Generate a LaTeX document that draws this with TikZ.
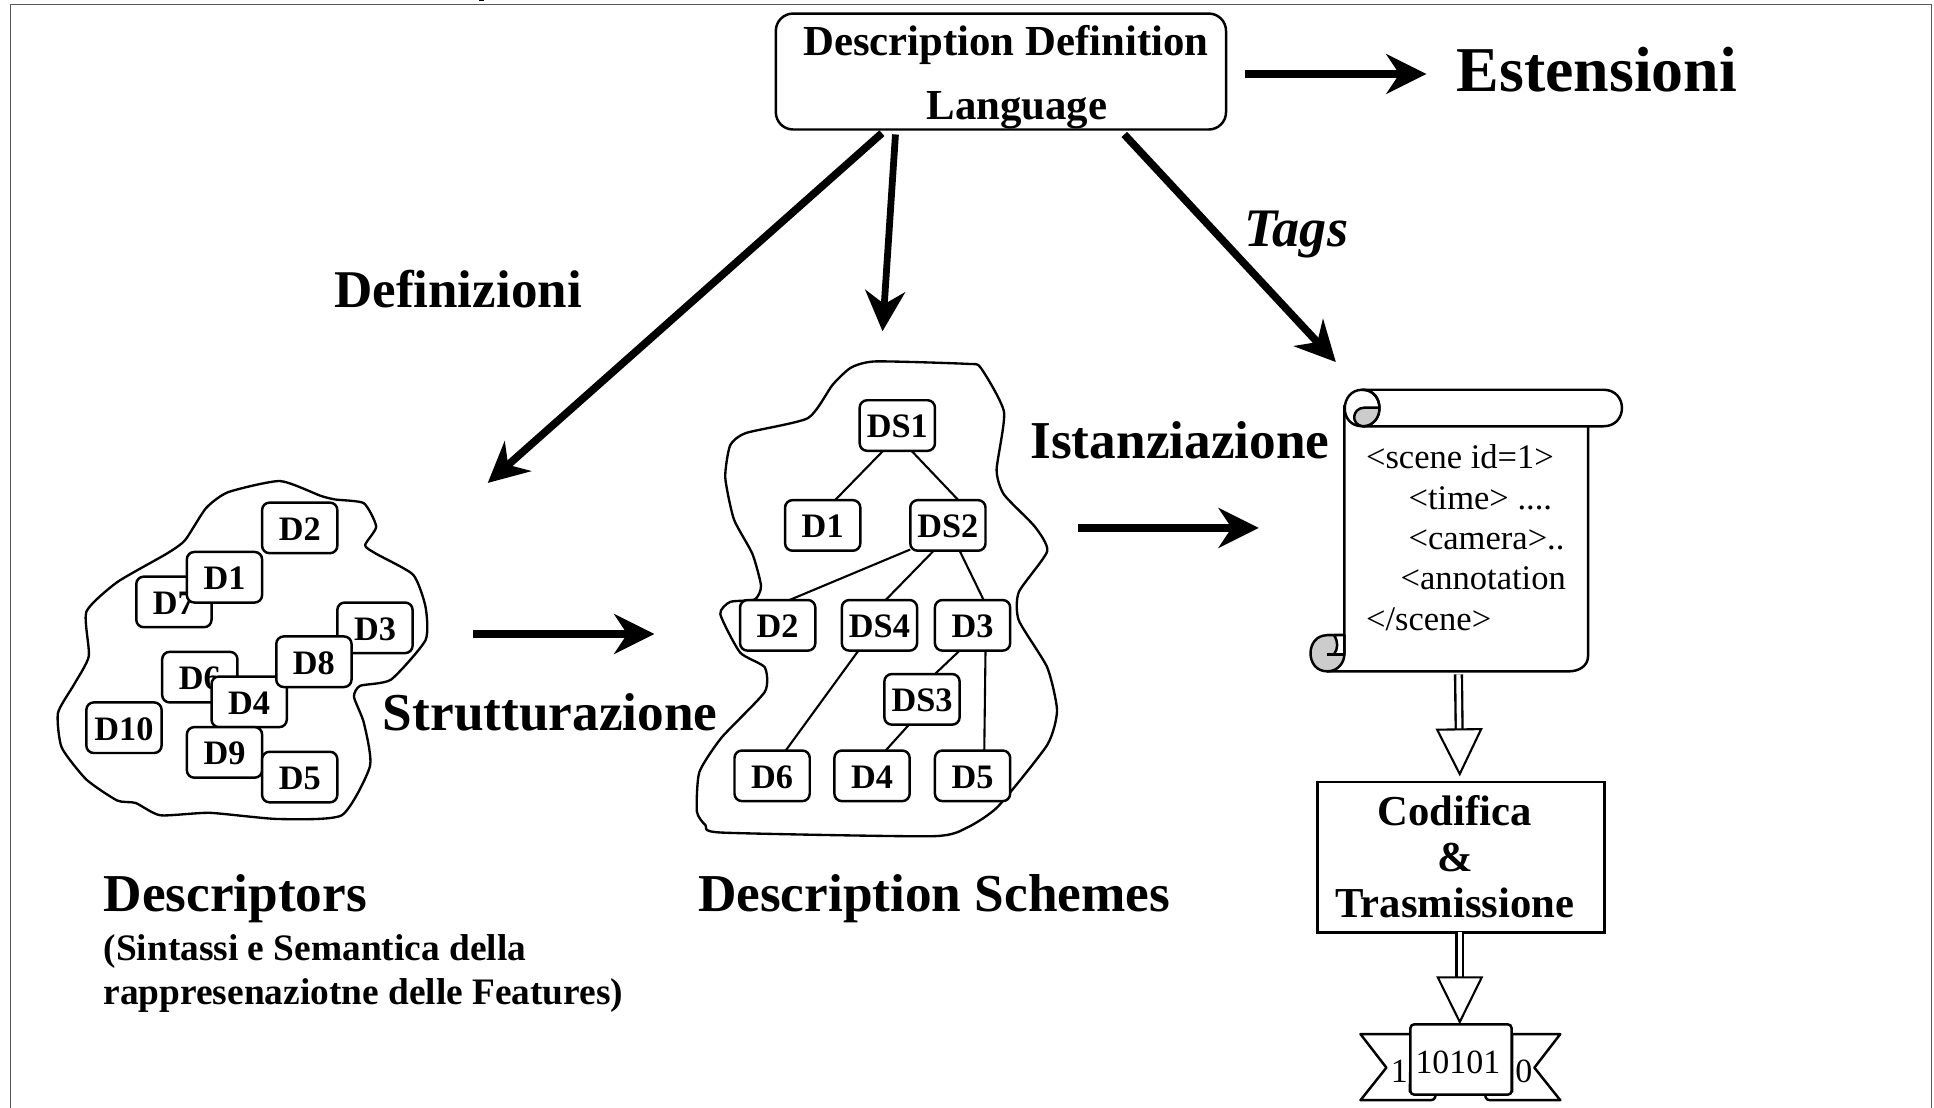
\documentclass[tikz,border=0pt]{standalone}
\usepackage{fontspec}
\setmainfont{Liberation Serif}
\usetikzlibrary{arrows.meta,calc}
\newcommand{\fsz}[1]{\fontsize{#1}{#1}\selectfont}
\tikzset{
  dbox/.style={draw=black,fill=white,line width=2pt,rounded corners=6pt,minimum width=61pt,minimum height=41pt,inner sep=0pt,outer sep=0pt,font=\fsz{27.8}\bfseries,text height=20pt,text depth=0pt},
  blob/.style={draw=black,line width=1.9pt,fill=white,line join=round},
  link/.style={draw=black,line width=1.7pt},
  big/.style={-{Stealth[length=33pt,width=33pt,inset=11pt,line width=0pt]},draw=black,line width=6.2pt},
  dbl/.style={draw=black,line width=1.9pt,double=white,double distance=3.6pt,-{Triangle[open,length=39pt,width=38pt,fill=white,line width=1.7pt]}},
  lab/.style={anchor=base west,inner sep=0pt,outer sep=0pt,font=\fsz{43.2}\bfseries},
  scr/.style={draw=black,line width=2pt,line join=round},
}
\begin{document}
\begin{tikzpicture}[x=1pt,y=-1pt]
\useasboundingbox (0,0) rectangle (1568,898.3);
% page frame
\draw[draw=black!65,line width=1.2pt] (8.5,898.3) -- (8.5,3.5) -- (1566,3.5) -- (1566,898.3);
\fill[black] (388,0) rectangle (392,1.2);

% left cloud
\draw[blob] plot[smooth cycle,tension=0.35] coordinates {(227,390) (185,399) (167,412) (150,438) (135,449) (95,472) (70,496) (72,532) (60,555) (47,578) (50,606) (70,632) (95,649) (110,651) (130,661) (170,659) (225,664) (277,661) (300,621) (295,586) (287,565) (292,556) (317,551) (345,519) (345,492) (335,466) (305,449) (296,442) (305,427) (295,408) (272,405) (260,402)};
\node[dbox] (ld7) at (141,488) {D7};
\node[dbox] (ld1) at (182,468) {D1};
\node[dbox] (ld6) at (162,549) {D6};
\node[dbox] (ld4) at (202,569) {D4};
\node[dbox] (ld3) at (304,509) {D3};
\node[dbox] (ld8) at (254.5,536.5) {D8};
\node[dbox] (ld2) at (243,428) {D2};
\node[dbox] (ld10) at (100.5,590) {D10};
\node[dbox] (ld9) at (182,610) {D9};
\node[dbox] (ld5) at (243,630) {D5};

% middle cloud
\draw[blob] plot[smooth cycle,tension=0.35] coordinates {(710,293) (690,298) (675,312) (655,339) (605,351) (592,361) (588,387) (595,421) (610,449) (617,475) (612,486) (592,488) (584,498) (600,529) (620,541) (620,561) (585,598) (567,626) (565,658) (572,669) (585,675) (755,678) (784,671) (809,654) (849,604) (857,576) (849,541) (826,503) (826,480) (849,447) (839,427) (814,401) (808,381) (814,334) (795,298) (784,295)};
\node[dbox] (ds1) at (727.5,345) {DS1};
\node[dbox] (md1) at (667,426) {D1};
\node[dbox] (ds2) at (768.5,426) {DS2};
\node[dbox] (md2) at (630.5,507) {D2};
\node[dbox] (ds4) at (713,507) {DS4};
\node[dbox] (md3) at (788.5,507) {D3};
\node[dbox] (ds3) at (747.5,567) {DS3};
\node[dbox] (md6) at (626,629) {D6};
\node[dbox] (md4) at (707,629) {D4};
\node[dbox] (md5) at (788.5,629) {D5};
\draw[link] ([xshift=-11.5pt]ds1.south) -- ([xshift=10pt]md1.north);
\draw[link] ([xshift=11.5pt]ds1.south) -- ([xshift=8.5pt]ds2.north);
\draw[link] ([xshift=-30.5pt,yshift=1pt]ds2.south) -- ([xshift=9.5pt]md2.north);
\draw[link] ([xshift=-11.5pt]ds2.south) -- ([xshift=5pt]ds4.north);
\draw[link] ([xshift=9.5pt]ds2.south) -- ([xshift=9pt]md3.north);
\draw[link] ([xshift=-17pt]ds4.south) -- ([xshift=11pt]md6.north);
\draw[link] ([xshift=-10.5pt]md3.south) -- ([xshift=10.5pt]ds3.north);
\draw[link] ([xshift=-10.5pt]ds3.south) -- ([xshift=11pt]md4.north);
\draw[link] ([xshift=10.5pt]md3.south) -- ([xshift=9.5pt]md5.north);

% top box
\node[draw=black,line width=2pt,rounded corners=14pt,fill=white,minimum width=365pt,minimum height=94pt,inner sep=0pt,outer sep=0pt,align=center,font=\fsz{34.7}\bfseries] (ddl) at (811.5,58) {\rule{0pt}{33pt}\hspace*{8pt}Description Definition\\[17pt]\hspace*{26pt}Language};

% scroll
\begin{scope}
\draw[scr,fill=white] (1076,515) -- (1090,515) -- (1090,329) -- (1104.5,316) -- (1300,316) .. controls (1320,316) and (1320,345.6) .. (1300,345.6) -- (1287.5,345.6) -- (1287.5,532) .. controls (1287.5,540) and (1280,544.3) .. (1272,544.3) -- (1076,544.3);
\draw[scr,fill=white] (1104.5,316) .. controls (1086,316) and (1085,345.6) .. (1104.5,345.6) -- (1287.5,345.6);
\draw[scr,fill=white] (1104.5,316) .. controls (1123,316) and (1123,345.6) .. (1104.5,345.6);
\fill[black!20] (1118.5,330.5) -- (1106,330.5) .. controls (1096,331) and (1095,344) .. (1104.5,345.6) .. controls (1112,345.6) and (1118,339) .. (1118.5,330.5);
\draw[scr] (1118.5,330.5) -- (1106,330.5) .. controls (1096,331) and (1095,344) .. (1104.5,345.6) .. controls (1123,345.6) and (1123,316) .. (1104.5,316);
\draw[scr,fill=black!20] (1076,515) .. controls (1058,515) and (1058,544.3) .. (1076,544.3) .. controls (1085,544.3) and (1090,537) .. (1090,530) -- (1090,515) -- cycle;
\draw[scr,fill=white] (1081.5,515) .. controls (1085,520) and (1085,526) .. (1081.5,530.5) -- (1090,530.5) -- (1090,515) -- cycle;
\draw[scr] (1075.5,530.5) -- (1090,530.5);
\end{scope}
\node[anchor=north west,minimum width=197.5pt,minimum height=198.7pt,inner sep=0pt,outer sep=0pt] (scroll) at (1090,345.6) {};
\node[anchor=base west,inner sep=0pt,outer sep=0pt,align=left,font=\fontsize{28}{32.7}\selectfont] (scenetxt) at (1107.5,511) {<scene id=1>\\\hspace*{34.5pt}<time> ....\\\hspace*{34.5pt}<camera>..\\\hspace*{28pt}<annotation\\</scene>};

% coding box
\node[draw=black,line width=2.4pt,fill=white,minimum width=233pt,minimum height=122pt,inner sep=0pt,outer sep=0pt] (cod) at (1184.7,695) {};
\node[anchor=base,inner sep=0pt,align=center,font=\fontsize{34.6}{37}\selectfont\bfseries] (codtxt) at (1179.5,743.5) {Codifica\\\&\\Trasmissione};

% ribbon
\draw[scr,fill=white] (1144,838.4) -- (1103,838.4) -- (1124,865.6) -- (1103,892) -- (1160,892) .. controls (1164,892) and (1164,888) .. (1164,885) -- (1143,885) -- cycle;
\draw[scr,fill=white] (1226,838.4) -- (1265,838.4) -- (1244,865.6) -- (1265,892) -- (1208,892) .. controls (1204,892) and (1204,888) .. (1204,885) -- (1226,885) -- cycle;
\node[draw=black,fill=white,line width=2pt,rounded corners=3pt,minimum width=82pt,minimum height=57pt,inner sep=0pt,outer sep=0pt] (bits) at (1184.5,859) {};
\node[anchor=base,inner sep=0pt,font=\fsz{27.5}] (bitstxt) at (1182,870) {10101};
\node[anchor=base,inner sep=0pt,font=\fsz{27.5}] (bitl) at (1134.5,877.6) {1};
\node[anchor=base,inner sep=0pt,font=\fsz{27.5}] (bitr) at (1235.5,877.6) {0};

% double arrows
\draw[dbl] ([xshift=-6.3pt,yshift=-2.5pt]scroll.south) -- ([xshift=-1.2pt,yshift=4.5pt]cod.north);
\draw[dbl] ([xshift=-1.2pt]cod.south) -- ([xshift=-1pt]bits.north);

% free ends
\coordinate (tipD) at (395.5,391.5);
\coordinate (tipS) at (715.5,268.5);
\coordinate (tipT) at (1083,293.5);
\coordinate (tipE) at (1156.5,60);
\coordinate (stA) at (383.5,514);
\coordinate (stB) at (530.5,514);
\coordinate (isA) at (874,428);
\coordinate (isB) at (1020.5,428);
\draw[big] ([xshift=-96.5pt,yshift=-3pt]ddl.south) -- (tipD);
\draw[big,line width=5.5pt] ([xshift=-85.5pt,yshift=-4pt]ddl.south) -- (tipS);
\draw[big] ([xshift=100pt,yshift=-4pt]ddl.south) -- (tipT);
\draw[big] ([xshift=15pt,yshift=-2pt]ddl.east) -- (tipE);
\draw[big] (stA) -- (stB);
\draw[big] (isA) -- (isB);

% labels
\node[lab,font=\fsz{51.8}\bfseries] (est) at (1181,74.5) {Estensioni};
\node[lab,font=\fsz{43}\bfseries] (def) at (271,249) {Definizioni};
\node[lab,font=\fsz{44}\bfseries\itshape] (tags) at (1009,200) {Tags};
\node[lab] (ist) at (835.5,372) {Istanziazione};
\node[lab] (str) at (310.5,592) {Strutturazione};
\node[lab] (dsc) at (84,739) {Descriptors};
\node[lab] (dsh) at (566,739) {Description Schemes};
\node[lab,align=left,font=\fontsize{30.3}{35.6}\selectfont\bfseries] (sem) at (84,814.6) {(Sintassi e Semantica della\\rappresenaziotne delle Features)};
\end{tikzpicture}
\end{document}
